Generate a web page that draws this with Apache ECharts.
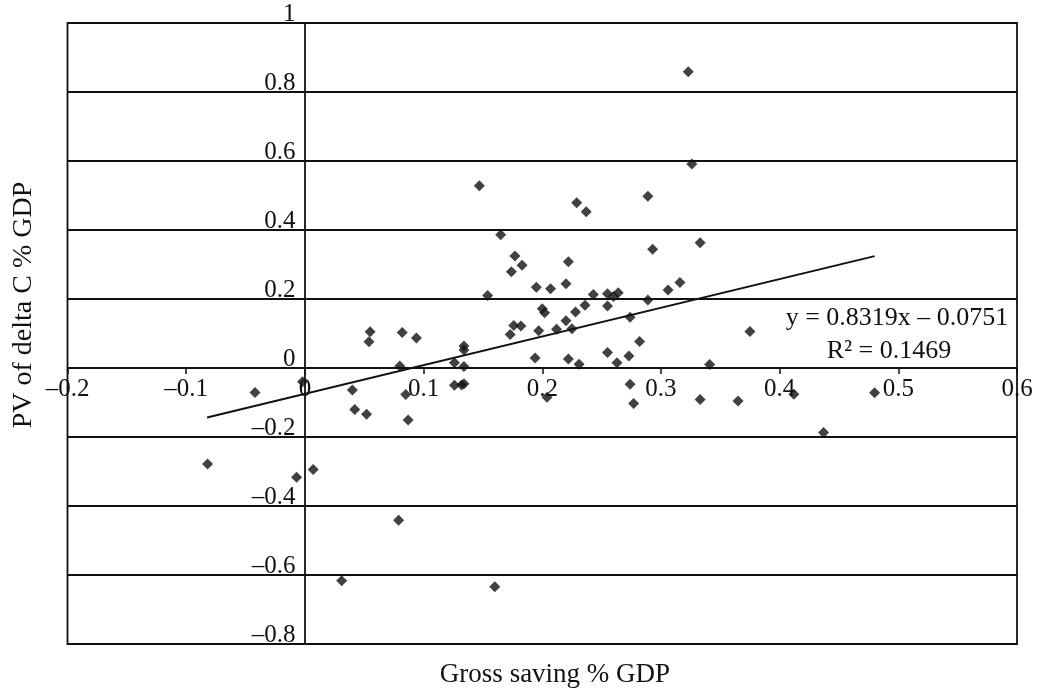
<!DOCTYPE html>
<html>
<head>
<meta charset="utf-8">
<script src="https://cdn.jsdelivr.net/npm/echarts@6/dist/echarts.min.js"></script>
<style>
  html, body { margin: 0; padding: 0; background: #fff; }
  #chart { width: 1039px; height: 692px; }
</style>
</head>
<body>
<div id="chart"></div>
<script>
// Gross saving % GDP (x) and PV of delta C % GDP (y)
const savingGDP = [
  0.323, 0.326, 0.147, 0.229, 0.237, 0.289, 0.165, 0.333, 0.177, 0.174,
  0.183, 0.222, 0.293, 0.154, 0.195, 0.207, 0.220, 0.306, 0.316, 0.289,
  0.243, 0.236, 0.228, 0.255, 0.264, 0.260, 0.255, 0.200, 0.202, 0.220,
  0.225, 0.212, 0.197, 0.274, 0.176, 0.182, 0.173, 0.282, 0.055, 0.054,
  0.082, 0.094, 0.134, 0.134, 0.126, 0.134, 0.080, 0.194, 0.222, 0.231,
  0.255, 0.263, 0.273, 0.040, 0.042, 0.052, 0.085, 0.087, 0.126, 0.132,
  0.134, 0.204, 0.274, 0.277, 0.333, 0.375, 0.341, 0.365, 0.412, 0.480,
  0.437, -0.042, -0.002, -0.082, 0.007, -0.007, 0.031, 0.079, 0.160
];
const pvDeltaC = [
  0.859, 0.591, 0.528, 0.479, 0.453, 0.498, 0.386, 0.363, 0.325, 0.279,
  0.298, 0.308, 0.344, 0.210, 0.234, 0.230, 0.244, 0.226, 0.248, 0.197,
  0.213, 0.182, 0.162, 0.215, 0.218, 0.207, 0.180, 0.172, 0.160, 0.137,
  0.114, 0.112, 0.108, 0.147, 0.123, 0.122, 0.097, 0.077, 0.105, 0.076,
  0.103, 0.087, 0.064, 0.052, 0.015, 0.004, 0.006, 0.029, 0.026, 0.011,
  0.045, 0.015, 0.035, -0.064, -0.120, -0.134, -0.077, -0.151, -0.050, -0.049,
  -0.046, -0.085, -0.047, -0.103, -0.091, 0.106, 0.010, -0.096, -0.076, -0.072,
  -0.187, -0.071, -0.040, -0.278, -0.294, -0.317, -0.617, -0.441, -0.634
];
// Linear trend line end points
const trendX = [-0.0824, 0.480];
const trendY = [-0.1436, 0.3242];

const xTitle = 'Gross saving % GDP';
const yTitle = 'PV of delta C % GDP';
const eqText = 'y = 0.8319x – 0.0751';
const r2Text = 'R² = 0.1469';

const FONT = '"Liberation Serif", "Times New Roman", serif';
const INK = '#111';

function fmt(v) {
  const r = Math.round(v * 10) / 10;
  if (r === 0) return '0';
  return r < 0 ? '–' + String(Math.abs(r)) : String(r);
}

const points = savingGDP.map((x, i) => [x, pvDeltaC[i]]);
const trend = trendX.map((x, i) => [x, trendY[i]]);

const chart = echarts.init(document.getElementById('chart'), null, { renderer: 'canvas' });
chart.setOption({
  animation: false,
  backgroundColor: '#fff',
  grid: {
    left: 67.5, right: 22, top: 23, bottom: 48,
    show: true, borderColor: INK, borderWidth: 1.8, backgroundColor: 'transparent'
  },
  xAxis: {
    type: 'value', min: -0.2, max: 0.6, interval: 0.1,
    axisLine: { show: true, onZero: true, lineStyle: { color: INK, width: 1.8 } },
    axisTick: { show: true, inside: false, length: 6, lineStyle: { color: INK, width: 1.5 } },
    splitLine: { show: false },
    axisLabel: {
      formatter: fmt, fontFamily: FONT, fontSize: 25, color: INK,
      margin: -267, lineHeight: 25, hideOverlap: false
    }
  },
  yAxis: {
    type: 'value', min: -0.8, max: 1, interval: 0.2,
    axisLine: { show: true, onZero: true, lineStyle: { color: INK, width: 1.8 } },
    axisTick: { show: true, inside: false, length: 4, lineStyle: { color: INK, width: 1.5 } },
    splitLine: { show: true, lineStyle: { color: INK, width: 1.8 } },
    axisLabel: {
      formatter: fmt, fontFamily: FONT, fontSize: 25, color: INK,
      margin: -228, lineHeight: 17, verticalAlign: 'bottom', align: 'right', hideOverlap: false
    }
  },
  graphic: [
    { type: 'text', x: 555, y: 675, style: { text: xTitle, font: '27px ' + FONT, fill: INK, textAlign: 'center', textVerticalAlign: 'middle' } },
    { type: 'text', x: 24, y: 305, rotation: Math.PI / 2, style: { text: yTitle, font: '28px ' + FONT, fill: INK, textAlign: 'center', textVerticalAlign: 'middle' } },
    { type: 'text', x: 897, y: 318, z: 10, style: { text: eqText, font: '26px ' + FONT, fill: INK, textAlign: 'center', textVerticalAlign: 'middle' } },
    { type: 'text', x: 889, y: 351, z: 10, style: { text: r2Text, font: '26px ' + FONT, fill: INK, textAlign: 'center', textVerticalAlign: 'middle' } }
  ],
  series: [
    {
      type: 'line', data: trend, symbol: 'none', silent: true,
      lineStyle: { color: INK, width: 2 }, z: 3
    },
    {
      type: 'scatter', data: points, symbol: 'diamond', symbolSize: 11,
      itemStyle: { color: '#111' }, z: 4
    }
  ]
});
</script>
</body>
</html>
